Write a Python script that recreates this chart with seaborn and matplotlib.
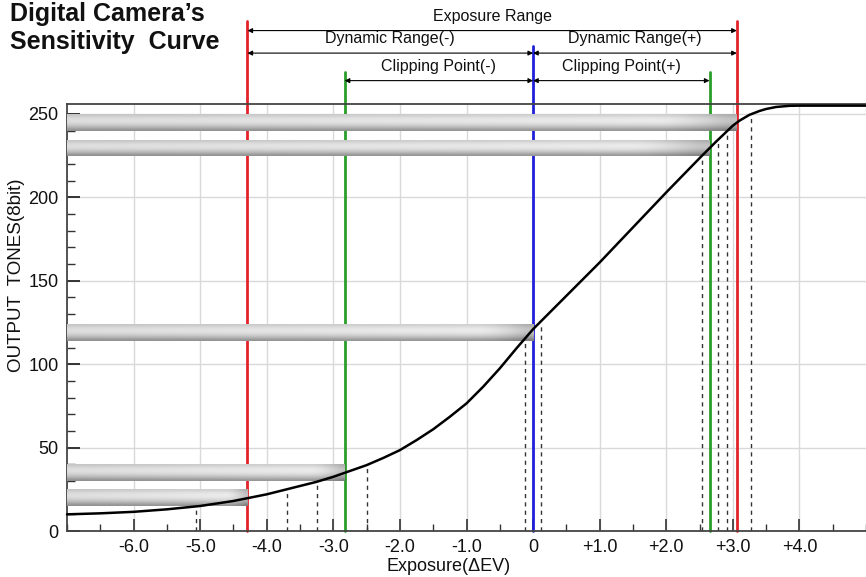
import numpy as np
import pandas as pd
import matplotlib
matplotlib.use("Agg")
import matplotlib.pyplot as plt
from matplotlib.ticker import MultipleLocator
import seaborn as sns

# ==============================
# Data
# ==============================
ev = [-7.0, -6.5, -6.0, -5.5, -5.0, -4.5, -4.25, -4.0, -3.75, -3.5, -3.25,
      -3.0, -2.75, -2.5, -2.25, -2.0, -1.75, -1.5, -1.25, -1.0, -0.75, -0.5,
      -0.25, 0.0, 0.5, 1.0, 1.5, 2.0, 2.5, 2.75, 3.0, 3.1, 3.25, 3.4, 3.5,
      3.65, 3.85, 4.0, 5.0]
tones = [10, 10.6, 11.5, 13.0, 15, 18, 20, 22, 24.5, 27, 29.5,
         32.5, 36, 39.5, 43.8, 48.5, 54.5, 61, 68.5, 76.5, 86.5, 97.5,
         109.5, 121, 141, 161, 182, 203, 223.5, 233.5, 243, 246, 249.5, 251.8, 253,
         254.2, 254.9, 255, 255]

x_ticks = [-6, -5, -4, -3, -2, -1, 0, 1, 2, 3, 4]
x_tick_labels = ["-6.0", "-5.0", "-4.0", "-3.0", "-2.0", "-1.0", "0",
                 "+1.0", "+2.0", "+3.0", "+4.0"]
y_ticks = [0, 50, 100, 150, 200, 250]

# exposure markers
red_x = [-4.29, 3.06]
green_x = [-2.83, 2.65]
blue_x = [0.0]

# shaded tone bands (low, high, right end on the curve)
band_lo = [15, 30, 114, 225, 240]
band_hi = [25, 40, 124, 234, 250]
band_end = [-4.29, -2.83, 0.0, 2.65, 3.06]

# dashed drop lines where the band edges meet the curve
dash_x = [-5.07, -3.69, -3.24, -2.49, -0.12, 0.12, 2.53, 2.77, 2.91, 3.28]
dash_top = [15, 25, 30, 40, 114, 124, 225, 234, 240, 250]

# range arrows: label, start, end, arrow height
span_labels = ["Exposure Range", "Dynamic Range(-)", "Dynamic Range(+)",
               "Clipping Point(-)", "Clipping Point(+)"]
span_x0 = [-4.29, -4.29, 0.0, -2.83, 0.0]
span_x1 = [3.06, 0.0, 3.06, 0.0, 2.65]
span_y = [300, 286.5, 286.5, 270, 270]

# ==============================
# Plot
# ==============================
sns.set_theme(style="white")
plt.rcParams["font.family"] = ["Liberation Sans", "DejaVu Sans"]

fig = plt.figure(figsize=(8.66, 5.77), dpi=100)
ax = fig.add_axes([0.0774, 0.0797, 0.9226, 0.7401])

XMIN, XMAX, YMIN, YMAX = -7.0, 5.0, 0.0, 256.0

# grid
ax.set_xticks(x_ticks)
ax.set_yticks(y_ticks)
ax.grid(True, which="major", color="#d9d9d9", lw=1.0, zorder=0)
ax.set_axisbelow(True)

# coloured marker lines (run up above the axes)
for x in red_x:
    ax.plot([x, x], [YMIN, 306], color="#e3232a", lw=2.0, clip_on=False, zorder=2)
for x in green_x:
    ax.plot([x, x], [YMIN, 275], color="#2a9d2a", lw=2.0, clip_on=False, zorder=2)
for x in blue_x:
    ax.plot([x, x], [YMIN, 291], color="#2020d8", lw=2.0, clip_on=False, zorder=2)

# dashed drop lines
for x, t in zip(dash_x, dash_top):
    ax.plot([x, x], [YMIN, t], color="#333333", lw=1.0, ls=(0, (3, 3)), zorder=2)

# cylinder-like gray bands
profile = np.array([0.82, 0.88, 0.92, 0.93, 0.91, 0.86, 0.79, 0.70, 0.60])
grad = np.tile(profile[:, None], (1, 40))
shade = np.linspace(0.94, 1.0, 40)
shade[-4:] = [0.97, 0.93, 0.88, 0.82]
grad = grad * shade[None, :]
for lo, hi, end in zip(band_lo, band_hi, band_end):
    ax.imshow(grad, extent=[XMIN, end, lo, hi], aspect="auto", cmap="gray",
              vmin=0, vmax=1, interpolation="bicubic", zorder=3)

# sensitivity curve
curve = pd.DataFrame({"ev": ev, "tones": tones})
sns.lineplot(data=curve, x="ev", y="tones", ax=ax, color="black", lw=1.8,
             zorder=4, clip_on=False)

# range arrows + labels
for lab, x0, x1, y in zip(span_labels, span_x0, span_x1, span_y):
    ax.annotate("", xy=(x1, y), xytext=(x0, y), annotation_clip=False,
                arrowprops=dict(arrowstyle="<|-|>", color="black", lw=0.8,
                                mutation_scale=7, shrinkA=0, shrinkB=0))
    ax.text((x0 + x1) / 2, y + 4, lab, ha="center", va="bottom",
            fontsize=11.5, color="#111111", clip_on=False)

ax.set_xlim(XMIN, XMAX)
ax.set_ylim(YMIN, YMAX)

# ticks
ax.set_xticklabels(x_tick_labels)
ax.xaxis.set_minor_locator(MultipleLocator(0.5))
ax.yaxis.set_minor_locator(MultipleLocator(10))
ax.tick_params(which="both", direction="in", colors="#333333",
               labelcolor="#111111", labelsize=13)
ax.tick_params(axis="x", which="major", length=9, width=1.2, pad=6)
ax.tick_params(axis="x", which="minor", length=5, width=1.0)
ax.tick_params(axis="y", which="major", length=9, width=1.4, pad=6)
ax.tick_params(axis="y", which="minor", length=6, width=1.0)
ax.tick_params(bottom=True, left=True, which="both")

for side in ["left", "bottom", "top"]:
    ax.spines[side].set_color("#444444")
    ax.spines[side].set_linewidth(1.3)
ax.spines["right"].set_visible(False)

ax.set_xlabel("Exposure(\u0394EV)", fontsize=13, color="#111111")
ax.xaxis.set_label_coords(0.478, -0.064)
ax.set_ylabel("OUTPUT  TONES(8bit)", fontsize=13.5, color="#111111")
ax.yaxis.set_label_coords(-0.052, 0.6)

fig.text(0.011, 0.963, "Digital Camera\u2019s", fontsize=18, fontweight="bold",
         va="baseline", ha="left", color="#111111")
fig.text(0.011, 0.915, "Sensitivity  Curve", fontsize=18, fontweight="bold",
         va="baseline", ha="left", color="#111111")

fig.savefig("out.png", dpi=100)
